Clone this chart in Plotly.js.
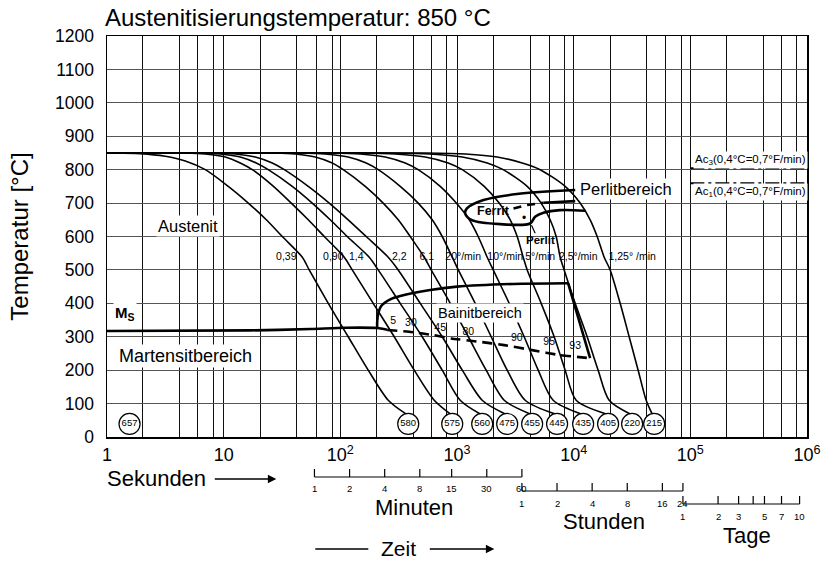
<!DOCTYPE html>
<html>
<head>
<meta charset="utf-8">
<script src="https://cdn.plot.ly/plotly-3.0.1.min.js"></script>
<style>
html,body{margin:0;padding:0;background:#fff;}
#chart{width:824px;height:562px;}
</style>
</head>
<body>
<div id="chart"></div>
<script>
// ---------- axis / grid values ----------
const gridTimes = [1,2,4.2,6,8.2,10,20.6,42.5,62,85,100,206,424,609,819,1000,2056,4240,6170,8300,10000,20560,42400,61700,84600,100000,203000,423000,608000,818000,1000000];
const decadeTimes = [1,10,100,1000,10000,100000,1000000];
const decadeLabels = ['1','10','10<sup>2</sup>','10<sup>3</sup>','10<sup>4</sup>','10<sup>5</sup>','10<sup>6</sup>'];

// ---------- cooling curves (time s, temperature °C) ----------
const c1_t = [1,1.93,3.16,4.69,6.96,10.95,16.25,23.2,31.8,47.2,54.1,78.8,116.8,173.4,257.3,365];
const c1_T = [850,848,840,826,800,750,700,650,600,538,500,400,300,200,110,69];
const c2_t = [1,4.69,6.96,10.32,13.88,17.59,26.7,37.96,53.1,72.8,108,126.5,191.4,289.7,429.9,637.7,874.6];
const c2_T = [850,850,847,838,820,800,750,700,650,600,538,500,400,300,200,110,69];
const c3_t = [1,6.3,9.35,13.88,19.02,24.1,38.7,57.4,81.9,114.6,176.9,211.3,326,503.3,747,1065,1580];
const c3_T = [850,850,847,838,820,800,750,700,650,600,538,500,400,300,200,110,69];
const c4_t = [1,8.47,12.57,18.66,26.1,33.1,53.1,80.3,116.8,166.7,257.3,313.5,483.9,747,1110,1644,2588];
const c4_T = [850,850,847,838,820,800,750,700,650,600,538,500,400,300,200,110,69];
const c5_t = [1,27.7,41.1,60.95,85.2,105.9,163.5,233,313.5,397,523.5,601,875,1250,1779,2538,4239];
const c5_T = [850,850,847,838,820,800,750,700,650,600,538,500,400,300,200,110,69];
const c6_t = [1,45.4,74.2,116.8,166.7,211.3,326,465,613,747,911,1026,1432,1964,2693,3840,6941];
const c6_T = [850,850,847,838,820,800,750,700,650,600,538,500,400,300,200,110,69];
const c7_t = [1,81.9,148.1,242.6,359.8,465,718,986,1275,1519,1815,2043,2801,3765,4965,6673,11594];
const c7_T = [850,850,847,838,820,800,750,700,650,600,538,500,400,300,200,110,69];
const c8_t = [1,148.1,295.4,534,840.6,1110,1711,2299,2857,3281,3693,3995,5266,6806,8455,10505,18992];
const c8_T = [850,850,847,838,820,800,750,700,650,600,538,500,400,300,200,110,69];
const c9_t = [1,267.7,589,1110,1815,2489,3995,5266,6289,7080,7661,8289,10300,13053,16216,20151,30496];
const c9_T = [850,850,847,838,820,800,750,700,650,600,538,500,400,300,200,110,69];
const c10_t = [1,534,1178,2210,3621,5163,8455,11367,13849,15902,18259,20553,25032,29900,35700,41818,47071];
const c10_T = [850,850,847,838,820,800,750,700,650,600,538,500,400,300,200,110,69];

// cooling-rate labels
const rateLabels = ['0,39','0,90','1,4','2,2','6,1','20°/min','10°/min','5°/min','2,5°/min','1,25° /min'];
const rateLabelTimes = [34.4,87,137,320,550,1130,2590,5160,10940,31750];

// hardness circles
const hardness = ['657','580','575','560','475','455','445','435','405','220','215'];
const hardnessTimes = [1.56,382,910,1644,2692,4406,7210,12050,19730,31700,48980];

// transformation regions
const ms_t = [1,16.9,55.2,110,207,252];
const ms_T = [317,319,323,327,326,321];
const bainStart_t = [207,207,211,224,268,326,589,1000,3033,8970];
const bainStart_T = [326,345,370,392,412,422,440,450,458,460];
const bainEnd_t = [8970,13830];
const bainEnd_T = [460,236];
const bainFinish_t = [252,389,625,891,1549,2537,4406,7650,13830];
const bainFinish_T = [320,315,305,295,285,275,260,245,236];
const bainPct = ['5','30','45','80','90','95','93'];
const bainPct_t = [284,403,718,1248,3260,6170,10300];
const bainPct_T = [345,340,325,312,295,283,272];
const perlit_t = [10310,3260,1687,1216,1176,1342,2344,4236,4673,5511,7650,12540];
const perlit_T = [739,727,709,684,669,649,637,639,659,671,679,677];
const ferritDash_t = [3050,3970,5511];
const ferritDash_T = [684,694,701];
const ferritLine_t = [5511,10310];
const ferritLine_T = [701,706];
const perlitMark_t = [4349,4679];
const perlitMark_T = [634,610];
const ac3_t = [100000,1000000]; const ac3_T = [804,804];
const ac1_t = [100000,1000000]; const ac1_T = [759,759];

// bottom time scales
const minuteTicks = [1,2,4,8,15,30,60];
const hourTicks = [1,2,4,8,16,24];
const dayTicks = [1,2,3,4,5,7,10];
const dayLabels = ['1','2','3','','5','7','10'];

// ---------- build ----------
const FONT = 'Liberation Sans, Arial, Helvetica, sans-serif';
const traces = [];
const curves = [[c1_t,c1_T],[c2_t,c2_T],[c3_t,c3_T],[c4_t,c4_T],[c5_t,c5_T],[c6_t,c6_T],[c7_t,c7_T],[c8_t,c8_T],[c9_t,c9_T],[c10_t,c10_T]];
curves.forEach(c => traces.push({x:c[0], y:c[1], mode:'lines', line:{color:'#000', width:1.6, shape:'spline', smoothing:0.8}, hoverinfo:'skip'}));

const thick = {color:'#000', width:2.6};
traces.push({x:ms_t, y:ms_T, mode:'lines', line:Object.assign({shape:'spline',smoothing:0.6},thick)});
traces.push({x:bainStart_t, y:bainStart_T, mode:'lines', line:Object.assign({shape:'spline',smoothing:0.8},thick)});
traces.push({x:bainEnd_t, y:bainEnd_T, mode:'lines', line:thick});
traces.push({x:bainFinish_t, y:bainFinish_T, mode:'lines', line:{color:'#000', width:2.6, dash:'10px,6px', shape:'spline', smoothing:0.5}});
traces.push({x:perlit_t, y:perlit_T, mode:'lines', line:Object.assign({shape:'spline',smoothing:0.9},thick)});
traces.push({x:ferritDash_t, y:ferritDash_T, mode:'lines', line:{color:'#000', width:2.6, dash:'8px,6px'}});
traces.push({x:ferritLine_t, y:ferritLine_T, mode:'lines', line:thick});
traces.push({x:perlitMark_t, y:perlitMark_T, mode:'lines', line:{color:'#000', width:1.2}});
traces.push({x:ac3_t, y:ac3_T, mode:'lines', line:{color:'#000', width:2, dash:'14px,4px,3px,4px'}});
traces.push({x:ac1_t, y:ac1_T, mode:'lines', line:{color:'#000', width:2, dash:'14px,4px,3px,4px'}});

traces.push({x:rateLabelTimes, y:rateLabelTimes.map(()=>538), mode:'text', text:rateLabels, textfont:{family:FONT, size:10.5, color:'#000'}, cliponaxis:false});
traces.push({x:bainPct_t, y:bainPct_T, mode:'text', text:bainPct, textfont:{family:FONT, size:10.5, color:'#000'}});
traces.push({x:hardnessTimes, y:hardnessTimes.map(()=>39), mode:'markers+text', text:hardness, textposition:'middle center',
  marker:{symbol:'circle', size:21, color:'#fff', line:{color:'#000', width:1.2}}, textfont:{family:FONT, size:9.5, color:'#000'}, cliponaxis:false});

const L = Math.log10;
const ann = [];
function txt(t, T, s, size, opts){ ann.push(Object.assign({x:L(t), y:T, xref:'x', yref:'y', xanchor:'center', yanchor:'middle', text:s, showarrow:false, font:{family:FONT, size:size, color:'#000'}}, opts||{})); }
txt(4.9, 631, 'Austenit', 16.5, {bgcolor:'#fff'});
txt(1.44, 371, '<b>M<sub>S</sub></b>', 15, {bgcolor:'#fff'});
txt(4.69, 242, 'Martensitbereich', 18, {bgcolor:'#fff'});
txt(1580, 371, 'Bainitbereich', 14.5, {bgcolor:'#fff'});
txt(28250, 742, 'Perlitbereich', 16.5, {bgcolor:'#fff'});
txt(2046, 677, '<b>Ferrit</b>', 12.5);
txt(5160, 589, '<b>Perlit</b>', 11.5);
txt(3715, 654, '•', 12);
txt(105700, 829, 'Ac<sub>3</sub>(0,4°C=0,7°F/min)', 11.5, {xanchor:'left', bgcolor:'#fff'});
txt(105700, 733, 'Ac<sub>1</sub>(0,4°C=0,7°F/min)', 11.5, {xanchor:'left', bgcolor:'#fff'});

// bottom area: paper y from pixel row
const py = y => (437 - y) / 401;
const px = x => (x - 106.7) / 700;
const shapes = [];
function scale(ticks, labels, unit, yLine, yLab){
  shapes.push({type:'line', xref:'x', yref:'paper', x0:ticks[0]*unit, x1:ticks[ticks.length-1]*unit, y0:py(yLine), y1:py(yLine), line:{color:'#000', width:1.2}});
  ticks.forEach((v,i) => {
    shapes.push({type:'line', xref:'x', yref:'paper', x0:v*unit, x1:v*unit, y0:py(yLine), y1:py(yLine-8), line:{color:'#000', width:1.2}});
    ann.push({x:L(v*unit), y:py(yLab), xref:'x', yref:'paper', xanchor:'center', yanchor:'middle', text:labels[i], showarrow:false, font:{family:FONT, size:9.5, color:'#000'}});
  });
}
scale(minuteTicks, minuteTicks.map(String), 60, 477, 489);
scale(hourTicks, hourTicks.map(String), 3600, 491, 503);
scale(dayTicks, dayLabels, 86400, 504, 516);

function word(x, y, s, size){ ann.push({x:px(x), y:py(y), xref:'paper', yref:'paper', xanchor:'center', yanchor:'middle', text:s, showarrow:false, font:{family:FONT, size:size, color:'#000'}}); }
word(156, 479, 'Sekunden', 22);
word(414, 507, 'Minuten', 22);
word(604, 521, 'Stunden', 22);
word(747, 535, 'Tage', 22);
word(398, 548, 'Zeit', 21);
function arrow(x0, x1, y){ ann.push({x:px(x1), y:py(y), xref:'paper', yref:'paper', ax:px(x0), ay:py(y), axref:'paper', ayref:'paper', text:'', showarrow:true, arrowhead:2, arrowsize:1.3, arrowwidth:1.3, arrowcolor:'#000'}); }
arrow(213, 276, 479);
arrow(428, 494, 549);
shapes.push({type:'line', xref:'paper', yref:'paper', x0:px(315), x1:px(368), y0:py(549), y1:py(549), line:{color:'#000', width:1.3}});

const layout = {
  width:824, height:562,
  margin:{l:107, r:17, t:36, b:125},
  paper_bgcolor:'#fff', plot_bgcolor:'#fff',
  showlegend:false,
  font:{family:FONT, color:'#000'},
  title:{text:'Austenitisierungstemperatur: 850 °C', x:105/824, xref:'container', xanchor:'left', y:1-18/562, yanchor:'middle', font:{family:FONT, size:24, color:'#000'}},
  xaxis:{type:'log', range:[0,6], tickvals:gridTimes, ticktext:gridTimes.map(v => { const i = decadeTimes.indexOf(v); return i >= 0 ? decadeLabels[i] : ''; }),
    showgrid:true, gridcolor:'#111', gridwidth:1, zeroline:false, showline:true, mirror:true, linecolor:'#000', linewidth:1.5,
    ticks:'', tickfont:{family:FONT, size:18, color:'#000'}, ticklabelstandoff:1, fixedrange:true},
  yaxis:{range:[0,1200], dtick:100, tick0:0, showgrid:true, gridcolor:'#555', gridwidth:1, zeroline:false, showline:true, mirror:true, linecolor:'#000', linewidth:1.5,
    ticks:'', tickfont:{family:FONT, size:17.5, color:'#000'}, ticklabelstandoff:8,
    title:{text:'Temperatur [°C]', font:{family:FONT, size:24, color:'#000'}, standoff:19}, fixedrange:true},
  annotations:ann,
  shapes:shapes
};

Plotly.newPlot('chart', traces, layout, {staticPlot:true, displayModeBar:false});
</script>
</body>
</html>
